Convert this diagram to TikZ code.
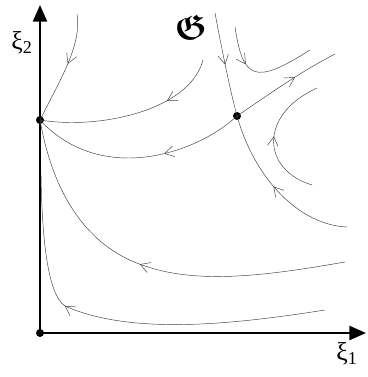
\documentclass[tikz,border=0pt]{standalone}
\usepackage{amsmath,amssymb}
\usepackage{fontspec}
\setmainfont{Liberation Serif}
\usepackage{tikz}
\usetikzlibrary{arrows.meta, decorations.markings}
\tikzset{
  axis/.style={line width=2.2pt, -{Triangle[length=5mm, width=4.2mm]}},
  orbit/.style={thin, draw=black!75},
  fixpt/.style={circle, fill=black, inner sep=0pt, minimum size=2.4mm},
  flowat/.style={postaction={decorate}, decoration={markings,
      mark=at position #1 with {\arrow{Straight Barb[length=2.8mm, width=3.2mm]}}}},
  axis label/.style={font=\fontsize{22}{24}\selectfont},
}

\begin{document}
\begin{tikzpicture}[x=0.03cm, y=-0.03cm]
  \useasboundingbox (0,0) rectangle (367,377);
  % fixed points
  \node[fixpt] (O) at (40,333) {};
  \node[fixpt] (N) at (40,120) {};
  \node[fixpt] (S) at (237,116) {};
  % axes
  \draw[axis] (O.center) -- (40,5) coordinate (ytip);
  \draw[axis] (O.center) -- (366,333) coordinate (xtip);
  \node[axis label] (xi2) at (22,43) {ξ\textsubscript{2}};
  \node[axis label] (xi1) at (347,354) {ξ\textsubscript{1}};
  \node[font=\fontsize{30}{32}\selectfont] (G) at (191,27) {$\boldsymbol{\mathfrak{G}}$};
  % orbits into the node N
  \draw[orbit, flowat=0.45] (77,14) .. controls (82,45) and (60,80) .. (N.center);
  \draw[orbit, flowat=0.3] (203,60) .. controls (190,110) and (100,130) .. (N.center);
  \draw[orbit, flowat=0.38] (S.center) .. controls (195,155) and (100,185) .. (N.center);
  \draw[orbit, flowat=0.53] (345,262) .. controls (270,275) and (200,285) .. (145,266)
    .. controls (95,250) and (55,205) .. (N.center);
  \draw[orbit, flowat=0.66] (325,310) .. controls (230,325) and (130,335) .. (65,306)
    .. controls (48,295) and (42,240) .. (41,175);
  % saddle S
  \draw[orbit, flowat=0.6] (S.center) .. controls (265,97) and (300,72) .. (335,54);
  \draw[orbit, flowat=0.5] (215,13) .. controls (222,50) and (230,90) .. (S.center);
  \draw[orbit, flowat=0.52] (347,227) .. controls (300,225) and (255,180) .. (S.center);
  \draw[orbit, flowat=0.35] (235,27) .. controls (243,80) and (255,85) .. (310,50);
  \draw[orbit, flowat=0.5] (312,185) .. controls (262,170) and (258,115) .. (317,88);
\end{tikzpicture}
\end{document}
